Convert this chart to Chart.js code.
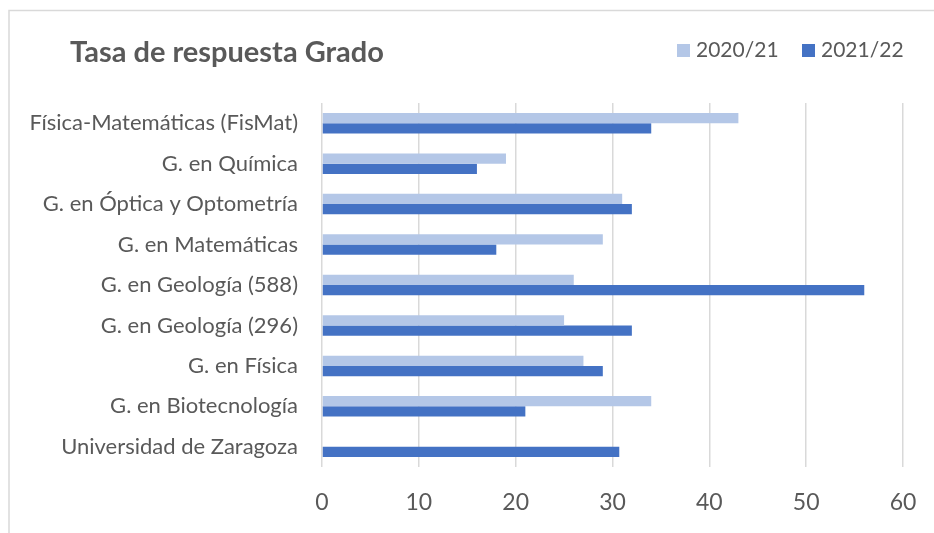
<!DOCTYPE html>
<html>
<head>
<meta charset="utf-8">
<script src="https://cdn.jsdelivr.net/npm/chart.js@4.4.1/dist/chart.umd.min.js"></script>
<style>
  html, body { margin: 0; padding: 0; background: #fff; }
  #wrap { width: 934px; height: 533px; }
</style>
</head>
<body>
<div id="wrap"><canvas id="mycanvas1" width="934" height="533"></canvas></div>
<script>
var chartTitle = 'Tasa de respuesta Grado';
var grados = [
  'Física-Matemáticas (FisMat)',
  'G. en Química',
  'G. en Óptica y Optometría',
  'G. en Matemáticas',
  'G. en Geología (588)',
  'G. en Geología (296)',
  'G. en Física',
  'G. en Biotecnología',
  'Universidad de Zaragoza'
];
var cursos = ['2020/21', '2021/22'];
var tasa2021 = [43, 19, 31, 29, 26, 25, 27, 34, null];
var tasa2122 = [34, 16, 32, 18, 56, 32, 29, 21, 30.7];
var ticksX = [0, 10, 20, 30, 40, 50, 60];

var gris = '#595959';
var fuente = 'Lato, "Open Sans", sans-serif';

// marco, titulo y leyenda al estilo Excel
var marco = {
  id: 'marco',
  beforeDraw: function(chart) {
    var ctx = chart.ctx;
    ctx.save();
    ctx.fillStyle = '#fff';
    ctx.fillRect(0, 0, chart.width, chart.height);
    ctx.strokeStyle = '#D9D9D9';
    ctx.lineWidth = 1.5;
    ctx.beginPath();
    ctx.moveTo(9, chart.height);
    ctx.lineTo(9, 10.5);
    ctx.lineTo(chart.width, 10.5);
    ctx.stroke();
    ctx.restore();
  },
  afterDraw: function(chart) {
    var ctx = chart.ctx;
    ctx.save();
    ctx.fillStyle = gris;
    ctx.textBaseline = 'alphabetic';
    ctx.font = 'bold 29px ' + fuente;
    ctx.fillText(chartTitle, 70, 62);

    var xs = [677, 802];
    ctx.font = '21px ' + fuente;
    ctx.textBaseline = 'middle';
    chart.data.datasets.forEach(function(ds, i) {
      ctx.fillStyle = ds.backgroundColor;
      ctx.fillRect(xs[i], 44, 13, 13);
      ctx.fillStyle = gris;
      ctx.fillText(ds.label, xs[i] + 19, 50);
    });
    ctx.restore();
  }
};

var chartdata = {
  labels: grados,
  datasets: [
    { label: cursos[0], backgroundColor: '#B4C7E7', data: tasa2021 },
    { label: cursos[1], backgroundColor: '#4472C4', data: tasa2122 }
  ]
};

var ctx = document.getElementById('mycanvas1');
var barGraph = new Chart(ctx, {
  type: 'bar',
  data: chartdata,
  plugins: [marco],
  options: {
    responsive: false,
    animation: false,
    indexAxis: 'y',
    layout: { padding: { top: 103, right: 31, left: 0, bottom: 0 } },
    datasets: { bar: { categoryPercentage: 0.507, barPercentage: 1 } },
    plugins: {
      legend: { display: false },
      title: { display: false },
      tooltip: { enabled: false }
    },
    scales: {
      x: {
        min: ticksX[0],
        max: ticksX[ticksX.length - 1],
        ticks: { stepSize: ticksX[1] - ticksX[0], padding: 22, color: gris, font: { family: fuente, size: 23 } },
        grid: { color: '#D9D9D9', lineWidth: 1.5, drawTicks: false },
        border: { display: false },
        afterFit: function(s) { s.height = 66; s.paddingLeft = 0; s.paddingRight = 0; }
      },
      y: {
        ticks: { padding: 24, color: gris, font: { family: fuente, size: 22 } },
        grid: { display: false, drawTicks: false },
        border: { display: false },
        afterFit: function(s) { s.width = 322; }
      }
    }
  }
});
</script>
</body>
</html>
